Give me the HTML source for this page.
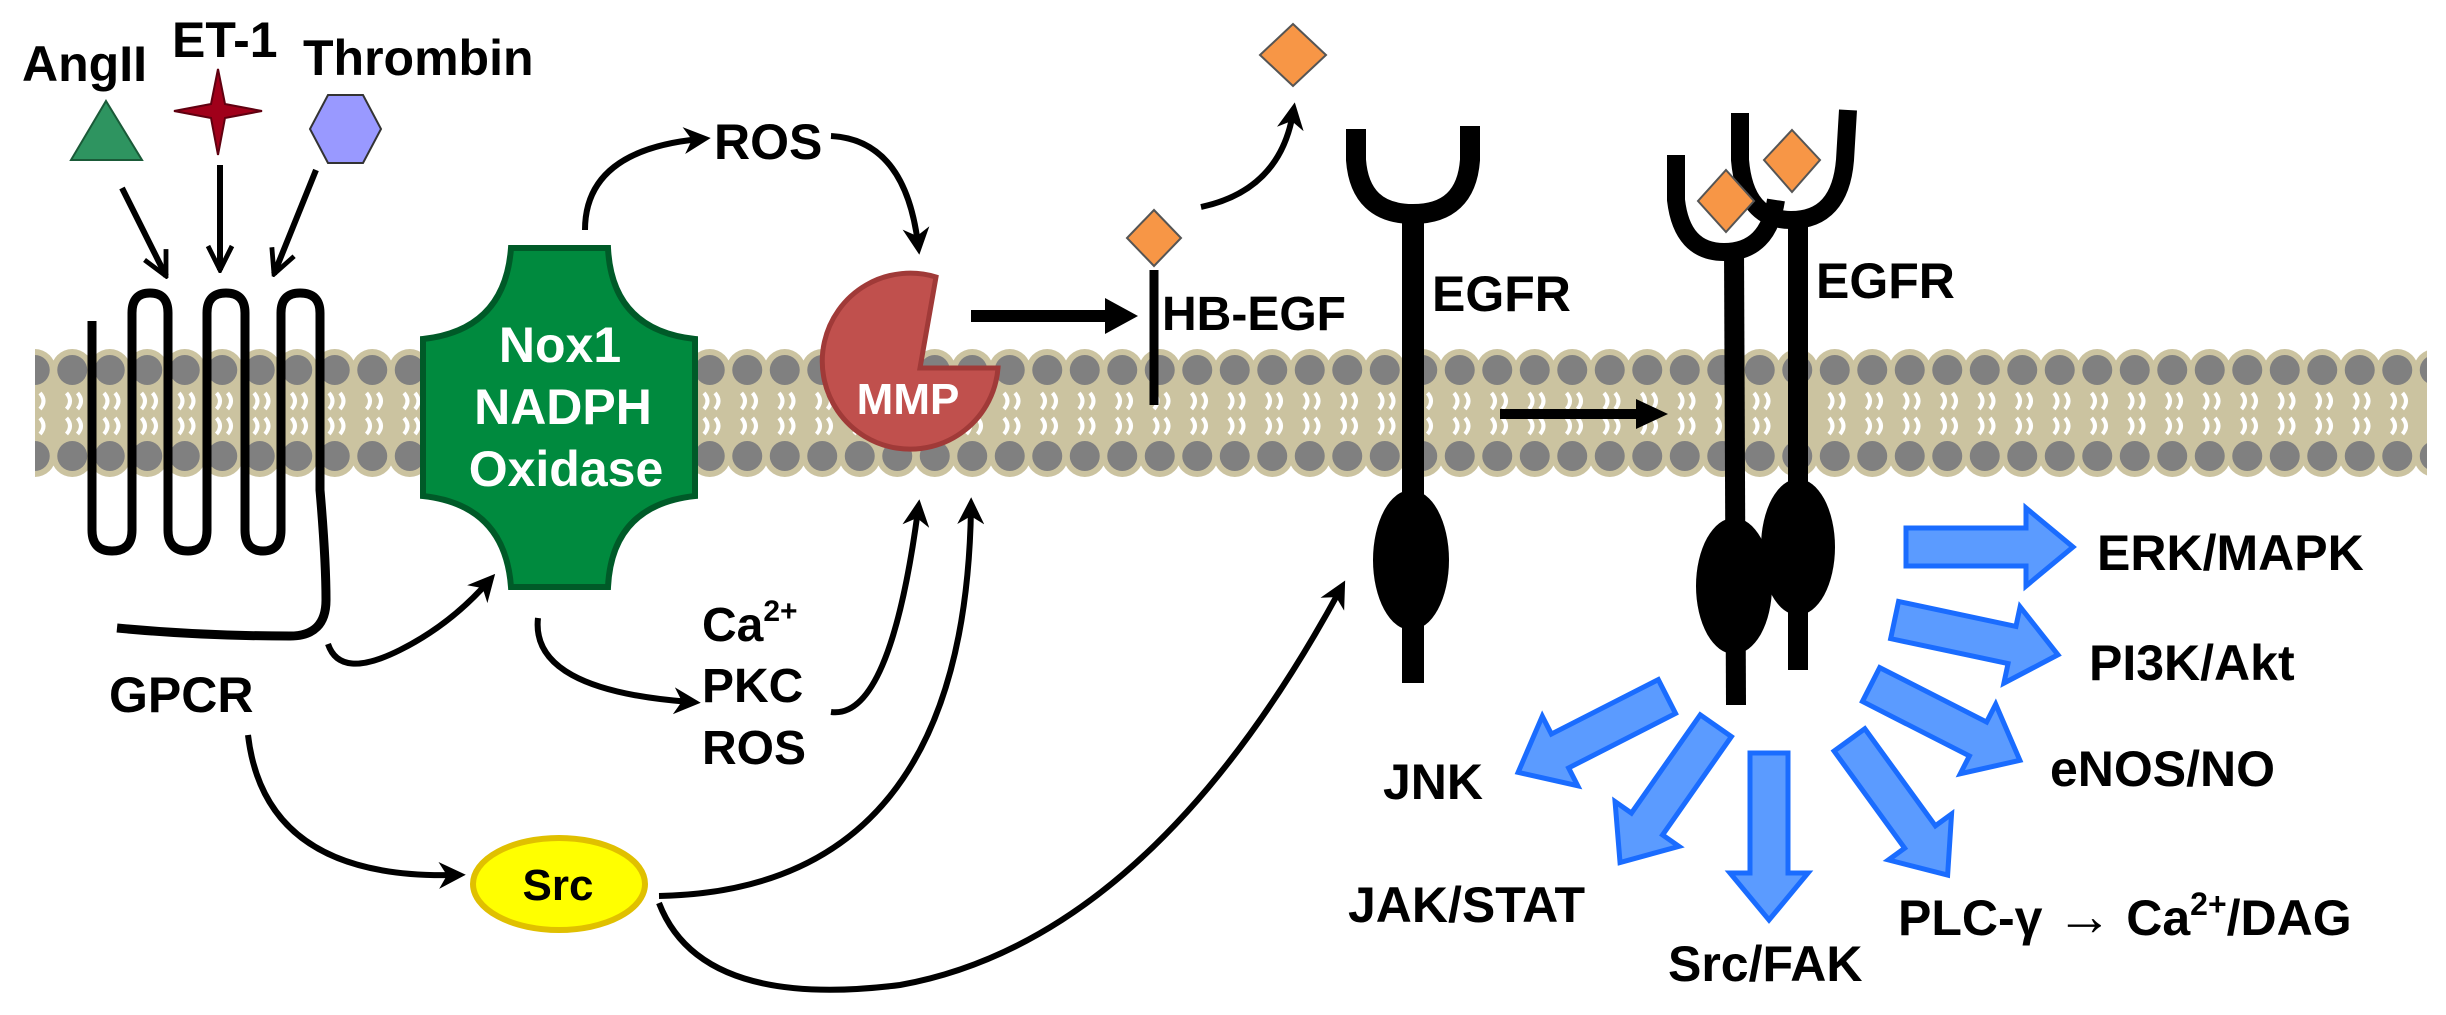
<!DOCTYPE html>
<html><head><meta charset="utf-8"><style>
html,body{margin:0;padding:0;background:#fff;}
svg{display:block;}
text{font-family:"Liberation Sans",Arial,sans-serif;font-weight:bold;}
</style></head><body>
<svg width="2446" height="1015" viewBox="0 0 2446 1015" xmlns="http://www.w3.org/2000/svg">
<defs>
<pattern id="mem" x="16" y="0" width="37.5" height="1015" patternUnits="userSpaceOnUse">
<circle cx="18.75" cy="370" r="21" fill="#cbc3a0"/>
<circle cx="18.75" cy="456" r="21" fill="#cbc3a0"/>
<rect x="0" y="370" width="37.5" height="86" fill="#cbc3a0"/>
<circle cx="18.75" cy="370" r="15" fill="#808080"/>
<circle cx="18.75" cy="456" r="15" fill="#808080"/>
<path d="M13,393 q7,8 0,16 M24,393 q7,8 0,16 M13,418 q7,8 0,16 M24,418 q7,8 0,16" stroke="#fff" stroke-width="4" fill="none"/>
</pattern>
<marker id="ah" viewBox="0 0 10 10" refX="6" refY="5" markerWidth="4.5" markerHeight="4.5" orient="auto" markerUnits="strokeWidth">
<path d="M0,0 L10,5 L0,10 L3,5 Z" fill="#000"/></marker>
<marker id="av" viewBox="0 0 10 10" refX="9" refY="5" markerWidth="5" markerHeight="5" orient="auto" markerUnits="strokeWidth">
<path d="M1,1 L9,5 L1,9" fill="none" stroke="#000" stroke-width="1.6"/></marker>
<polygon id="barrow" points="0,-19 -120,-19 -120,19 0,19 0,39 47,0 0,-39" fill="#5b9bff" stroke="#1a6cff" stroke-width="5" stroke-linejoin="miter"/>
</defs>

<!-- membrane -->
<rect x="35" y="348" width="2392" height="132" fill="url(#mem)"/>

<!-- ligands -->
<text x="22" y="81" font-size="50">AngII</text>
<text x="172" y="57" font-size="50">ET-1</text>
<text x="303" y="75" font-size="50">Thrombin</text>
<polygon points="106,101 142,160 71,160" fill="#2e9460" stroke="#1a5a38" stroke-width="2"/>
<path d="M218,69 L225,104 L262,111 L225,118 L218,155 L211,118 L174,111 L211,104 Z" fill="#a0001a" stroke="#600010" stroke-width="2"/>
<polygon points="328,95 363,95 381,129 363,163 328,163 310,129" fill="#9999ff" stroke="#333" stroke-width="2"/>
<g stroke="#000" stroke-width="6" fill="none" marker-end="url(#av)">
<path d="M122,188 L166,276"/>
<path d="M220,165 L220,270"/>
<path d="M316,170 L274,274"/>
</g>

<!-- GPCR -->
<path d="M92,321 L92,530 Q92,551 112,551 Q132,551 132,530 L132,313 Q132,293 150,293 Q168,293 168,313 L168,530 Q168,551 188,551 Q207,551 207,530 L207,313 Q207,293 226,293 Q245,293 245,313 L245,530 Q245,551 263,551 Q281,551 281,530 L281,313 Q281,293 300,293 Q320,293 320,313 L320,490 Q326,560 326,600 Q326,636 290,636 Q200,636 117,628" fill="none" stroke="#000" stroke-width="9"/>
<text x="109" y="712" font-size="50">GPCR</text>

<!-- Nox -->
<path d="M511,248 L608,248 Q612,330 695,339 L695,496 Q612,505 608,587 L511,587 Q505,505 423,496 L423,339 Q505,330 511,248 Z" fill="#008a3e" stroke="#005a28" stroke-width="6"/>
<g fill="#fff" font-size="50" text-anchor="middle">
<text x="560" y="362">Nox1</text>
<text x="563" y="424">NADPH</text>
<text x="566" y="486">Oxidase</text>
</g>

<text x="714" y="159" font-size="50">ROS</text>
<g stroke="#000" stroke-width="6" fill="none" marker-end="url(#ah)">
<path d="M585,230 Q585,150 700,139"/>
<path d="M831,136 Q905,140 918,244"/>
<path d="M328,644 Q340,680 400,650 Q450,625 488,582"/>
<path d="M538,618 Q530,690 690,702"/>
<path d="M831,712 Q890,720 918,510"/>
<path d="M659,896 Q965,890 971,508"/>
<path d="M248,735 Q265,880 455,875"/>
<path d="M659,903 Q700,1010 900,985 Q1150,940 1340,590"/>
<path d="M1201,207 Q1280,190 1293,113"/>
</g>

<!-- MMP -->
<path d="M920,368 L998,368 A88,88 0 1 1 936,277 Z" fill="#c0504d" stroke="#a03a38" stroke-width="5"/>
<text x="908" y="414" font-size="44" fill="#fff" text-anchor="middle">MMP</text>
<path d="M971,316 L1110,316" stroke="#000" stroke-width="12"/>
<polygon points="1105,298 1138,316 1105,334" fill="#000"/>

<text x="702" y="641" font-size="48">Ca<tspan font-size="30" dy="-20">2+</tspan></text>
<text x="702" y="702" font-size="48">PKC</text>
<text x="702" y="764" font-size="48">ROS</text>

<!-- Src -->
<ellipse cx="559" cy="884" rx="86" ry="46" fill="#ffff00" stroke="#e0c000" stroke-width="6"/>
<text x="558" y="900" font-size="44" text-anchor="middle">Src</text>

<!-- HB-EGF -->
<path d="M1154,270 L1154,405" stroke="#000" stroke-width="9"/>
<polygon points="1154,210 1181,238 1154,266 1127,238" fill="#f79646" stroke="#555" stroke-width="2"/>
<text x="1162" y="330" font-size="48">HB-EGF</text>
<polygon points="1293,24 1326,55 1293,86 1260,55" fill="#f79646" stroke="#555" stroke-width="2"/>

<!-- EGFR monomer -->
<path d="M1356,129 L1356,160 Q1360,214 1413,214 Q1466,214 1470,160 L1470,126" fill="none" stroke="#000" stroke-width="20"/>
<path d="M1413,210 L1413,683" stroke="#000" stroke-width="22"/>
<ellipse cx="1411" cy="560" rx="38" ry="70" fill="#000"/>
<text x="1432" y="311" font-size="50">EGFR</text>
<path d="M1500,414 L1640,414" stroke="#000" stroke-width="10"/>
<polygon points="1636,399 1668,414 1636,429" fill="#000"/>

<!-- EGFR dimer -->
<path d="M1740,113 L1740,160 Q1745,220 1791,220 Q1840,220 1845,160 L1848,110" fill="none" stroke="#000" stroke-width="18"/>
<path d="M1798,215 L1798,670" stroke="#000" stroke-width="20"/>
<ellipse cx="1798" cy="547" rx="37" ry="68" fill="#000"/>
<polygon points="1792,130 1820,160 1792,192 1764,160" fill="#f79646" stroke="#555" stroke-width="2"/>
<path d="M1676,155 L1676,200 Q1682,252 1724,252 Q1768,252 1776,200" fill="none" stroke="#000" stroke-width="18"/>
<path d="M1734,248 L1736,705" stroke="#000" stroke-width="20"/>
<ellipse cx="1734" cy="586" rx="38" ry="68" fill="#000"/>
<polygon points="1726,170 1754,201 1726,232 1698,201" fill="#f79646" stroke="#555" stroke-width="2"/>
<text x="1816" y="298" font-size="50">EGFR</text>

<!-- blue arrows -->
<use href="#barrow" transform="translate(2026,547) rotate(0)"/>
<use href="#barrow" transform="translate(2012,645) rotate(12)"/>
<use href="#barrow" transform="translate(1978,739) rotate(27)"/>
<use href="#barrow" transform="translate(1920,837) rotate(54)"/>
<use href="#barrow" transform="translate(1769,873) rotate(90)"/>
<use href="#barrow" transform="translate(1647,824) rotate(125)"/>
<use href="#barrow" transform="translate(1560,751) rotate(153)"/>

<g font-size="50">
<text x="2097" y="570">ERK/MAPK</text>
<text x="2089" y="680">PI3K/Akt</text>
<text x="2050" y="786">eNOS/NO</text>
<text x="1898" y="935">PLC-γ <tspan font-size="56">→</tspan> Ca<tspan font-size="32" dy="-20">2+</tspan><tspan dy="20">/DAG</tspan></text>
<text x="1668" y="981">Src/FAK</text>
<text x="1348" y="922">JAK/STAT</text>
<text x="1383" y="799">JNK</text>
</g>
</svg>
</body></html>
